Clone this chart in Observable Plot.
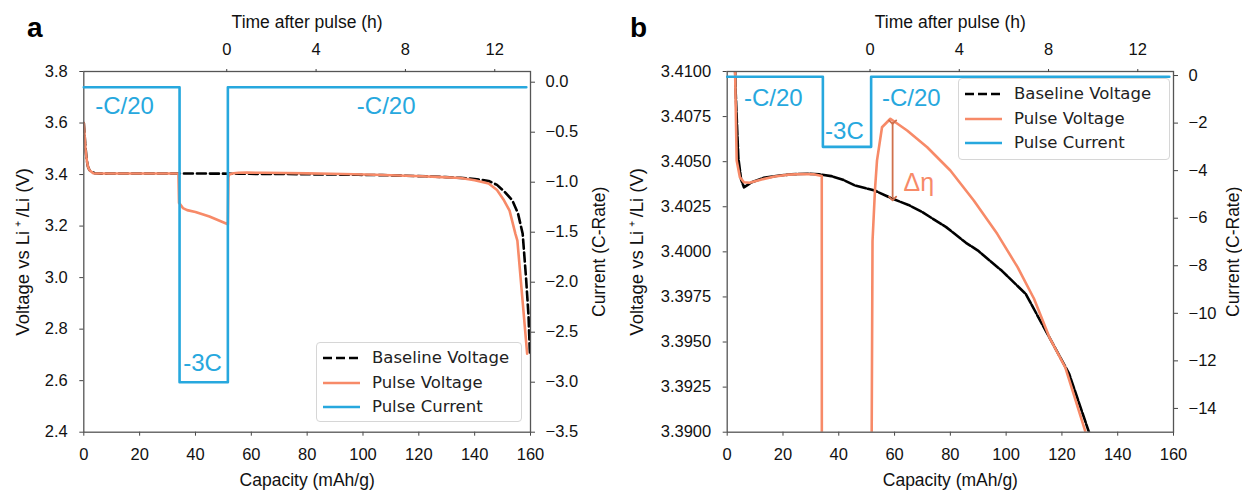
<!DOCTYPE html>
<html><head><meta charset="utf-8">
<script src="https://cdn.jsdelivr.net/npm/d3@7"></script>
<script src="https://cdn.jsdelivr.net/npm/@observablehq/plot@0.6"></script>
<style>
body{margin:0;background:#fff;}
#root{position:relative;width:1242px;height:492px;overflow:hidden;font-family:"Liberation Sans",Arial,sans-serif;background:#fff;}
.layer{position:absolute;top:0;}
.layer svg{display:block;background:transparent;overflow:visible;}
.letter{position:absolute;font-weight:bold;font-size:28px;line-height:28px;color:#000;}
.legend{position:absolute;background:rgba(255,255,255,0.85);border:1px solid #d6d6d6;border-radius:4px;font-family:"DejaVu Sans",sans-serif;font-size:16.5px;color:#222;box-sizing:border-box;}
.legend .sw{position:absolute;left:6px;}
.legend .lab{position:absolute;left:55px;line-height:20px;white-space:nowrap;}
</style>
</head><body><div id="root"></div>
<script>
const BLUE = "#27a8de", ORANGE = "#f78a68", FONT = "Liberation Sans, Arial, sans-serif";

// ---- data (capacity in mAh/g, voltage in V, current in C-rate) ----
const baseCap = [0,0.5,1,1.5,2,2.5,3,4,5,6,8.8,13,18.8,23,28.7,33,37.3,41.5,45.8,52.9,59.3,65,70,78.5,85.6,89.9,98.4,107,115.5,122.6,129.7,135,140,145,148,151,153.5,155.5,157.2,158.4,159.3,159.8];
const baseV   = [3.60,3.52,3.46,3.43,3.418,3.4125,3.409,3.4052,3.4040,3.40358,3.40386,3.4041,3.40423,3.4043,3.40433,3.4043,3.4042,3.4040,3.40368,3.4034,3.40294,3.4026,3.4022,3.40137,3.4005,3.40007,3.39896,3.39767,3.39526,3.39323,3.3900,3.387,3.383,3.375,3.36,3.33,3.30,3.25,3.17,3.00,2.85,2.70];

const pulseCap = [0,0.3,0.6,1,1.5,2,2.5,2.83,3.4,4.55,6,8,12,17,22,27,31,33.9,34.1,34.5,35.5,37,40,45,51.6,51.8,52.1,53,53.7,55.5,58.5,64.5,71.7,80,88.4,96.8,104.1,110,115.5,121.2,128.3,135,140,145,148,150.5,152.5,154.6,155.3,157,158.8];
const pulseV   = [3.60,3.55,3.50,3.46,3.43,3.418,3.4125,3.41,3.40506,3.40414,3.40386,3.40383,3.4040,3.40418,3.40428,3.40432,3.4043,3.4042,3.29,3.285,3.270,3.262,3.255,3.237,3.207,3.39,3.4006,3.4035,3.40506,3.40691,3.40738,3.40673,3.4058,3.40451,3.40285,3.4010,3.39915,3.3974,3.39526,3.3936,3.39009,3.3865,3.378,3.365,3.34,3.30,3.26,3.17,3.144,2.93,2.705];

const currentCap = [0,34.3,34.3,51.6,51.6,158.5];
const currentVal = [-0.05,-0.05,-3,-3,-0.05,-0.05];

const capTicks = [0,20,40,60,80,100,120,140,160];
const timeTicks = [0,4,8,12];
const voltTicksA = [2.4,2.6,2.8,3.0,3.2,3.4,3.6,3.8];
const voltTicksB = [3.39,3.3925,3.395,3.3975,3.40,3.4025,3.405,3.4075,3.41];
const currTicksA = [0,-0.5,-1,-1.5,-2,-2.5,-3,-3.5];
const currTicksB = [0,-2,-4,-6,-8,-10,-12,-14];

const annLabelsA = ["-C/20","-C/20","-3C"];
const annCapA = [4.1,97.8,35.6];
const annCurA = [-0.243,-0.243,-2.808];
const annLabelsB = ["-C/20","-3C","-C/20"];
const annCapB = [6.0,35.1,55.5];
const annCurB = [-0.947,-2.358,-0.947];
const etaCap = [63.2], etaV = [3.40379];
const arrowCap = [59.3], arrowTop = [3.40719], arrowBottom = [3.40296];

const legendLabels = ["Baseline Voltage","Pulse Voltage","Pulse Current"];

const zip = (xs, ys, kx, ky) => xs.map((x,i)=>({[kx]:x,[ky]:ys[i]}));
const baseRows = zip(baseCap, baseV, "cap", "v");
const pulseRows = zip(pulseCap, pulseV, "cap", "v");
const currRows = zip(currentCap, currentVal, "cap", "c");
// time after pulse: 1 h = 8 mAh/g at C/20, pulse ends at 51.2 mAh/g
const capToTime = c => (c - 51.2) / 8;

const root = document.getElementById("root");

function panel(cfg) {
  const common = {width: cfg.width, height: 492, marginLeft: cfg.ml, marginRight: cfg.mr, marginTop: 71, marginBottom: 60.3,
    style: {background: "transparent", fontFamily: FONT, color: "#111", overflow: "visible"}};
  const axisText = {fontSize: 16.5, tickSize: 4, tickPadding: 12, label: null, stroke: "#444"};
  const lab = {fontSize: 17.5, fill: "#111", lineAnchor: "middle", textAnchor: "middle"};

  // layer 1: voltage
  const m1 = [
    Plot.axisX({anchor: "bottom", ticks: capTicks, ...axisText}),
    Plot.axisY({anchor: "left", ticks: cfg.vTicks, tickFormat: d3.format(cfg.vFmt), ...axisText}),
    Plot.line(baseRows, {x: "cap", y: "v", stroke: "#000", strokeWidth: 2.6, strokeDasharray: cfg.dash, clip: true}),
    Plot.line(pulseRows, {x: "cap", y: "v", stroke: ORANGE, strokeWidth: 2.6, clip: true}),
  ];
  if (cfg.arrow) {
    m1.push(Plot.link(arrowCap.map((c,i)=>({c, y1: arrowTop[i], y2: arrowBottom[i]})), {x1: "c", x2: "c", y1: "y1", y2: "y2", stroke: "#d0704c", strokeWidth: 1.8, markerStart: "arrow", markerEnd: "arrow"}));
    m1.push(Plot.text(etaCap.map((c,i)=>({c, v: etaV[i]})), {x: "c", y: "v", text: () => "Δη", fill: ORANGE, fontSize: 25, textAnchor: "start"}));
  }
  m1.push(Plot.frame({stroke: "#555", strokeWidth: 1.3}));
  m1.push(Plot.text(["Capacity (mAh/g)"], {frameAnchor: "bottom", dy: 47.7, text: d => d, ...lab}));
  m1.push(Plot.text(["Voltage vs Li\u2009\u207A\u2009/Li (V)"], {frameAnchor: "left", dx: cfg.leftLabelDx, rotate: -90, text: d => d, ...lab, fontSize: 18.5}));
  const p1 = Plot.plot({...common, x: {domain: [0,160]}, y: {domain: cfg.vDomain}, marks: m1});

  // layer 2: current
  const ann = cfg.annLabels.map((t,i)=>({t, c: cfg.annCap[i], cur: cfg.annCur[i]}));
  const p2 = Plot.plot({...common, x: {domain: [0,160], axis: null}, y: {domain: cfg.cDomain}, marks: [
    Plot.axisY({anchor: "right", ticks: cfg.cTicks, tickFormat: d3.format(cfg.cFmt), ...axisText, tickPadding: 11}),
    Plot.line(currRows, {x: "cap", y: "c", stroke: BLUE, strokeWidth: 2.6}),
    Plot.text(ann, {x: "c", y: "cur", text: "t", fill: BLUE, fontSize: 24, textAnchor: "start"}),
    Plot.text(["Current (C-Rate)"], {frameAnchor: "right", dx: cfg.rightLabelDx, rotate: -90, text: d => d, ...lab})
  ]});

  // layer 3: time after pulse (top axis)
  const p3 = Plot.plot({...common, x: {domain: [capToTime(0), capToTime(160)]}, y: {domain: [0,1], axis: null}, marks: [
    Plot.axisX({anchor: "top", ticks: timeTicks, ...axisText, tickSize: 3, tickPadding: 14}),
    Plot.text(["Time after pulse (h)"], {frameAnchor: "top", dy: -49.3, text: d => d, ...lab})
  ]});

  for (const p of [p1, p2, p3]) {
    const d = document.createElement("div");
    d.className = "layer"; d.style.left = cfg.left + "px";
    d.appendChild(p); root.appendChild(d);
  }

  const L = document.createElement("div");
  L.className = "letter"; L.textContent = cfg.letter;
  L.style.left = cfg.letterX + "px"; L.style.top = "14px";
  root.appendChild(L);

  const lg = document.createElement("div");
  lg.className = "legend";
  Object.assign(lg.style, {left: cfg.lg[0] + "px", top: cfg.lg[1] + "px", width: cfg.lg[2] + "px", height: cfg.lg[3] + "px"});
  const styles = [{s: "#000", d: "9,4"}, {s: ORANGE, d: null}, {s: BLUE, d: null}];
  legendLabels.forEach((t, i) => {
    const cy = 15 + i * 24.5;
    const sw = document.createElementNS("http://www.w3.org/2000/svg", "svg");
    sw.setAttribute("class", "sw"); sw.setAttribute("width", 38); sw.setAttribute("height", 6);
    sw.style.top = (cy - 3) + "px";
    const ln = document.createElementNS("http://www.w3.org/2000/svg", "line");
    ln.setAttribute("x1", 0); ln.setAttribute("x2", 37); ln.setAttribute("y1", 3); ln.setAttribute("y2", 3);
    ln.setAttribute("stroke", styles[i].s); ln.setAttribute("stroke-width", 2.6);
    if (styles[i].d) ln.setAttribute("stroke-dasharray", styles[i].d);
    sw.appendChild(ln); lg.appendChild(sw);
    const sp = document.createElement("span");
    sp.className = "lab"; sp.textContent = t; sp.style.top = (cy - 10) + "px";
    lg.appendChild(sp);
  });
  root.appendChild(lg);
}

panel({left: 0, width: 620, ml: 83.3, mr: 90, vDomain: [2.4, 3.8], cDomain: [-3.5, 0.107],
  vTicks: voltTicksA, vFmt: ".1f", cTicks: currTicksA, cFmt: ".1f", dash: "9,4",
  annLabels: annLabelsA, annCap: annCapA, annCur: annCurA, arrow: false,
  leftLabelDx: -61, rightLabelDx: 68.7, letter: "a", letterX: 27, lg: [316, 342, 206, 80]});

panel({left: 620, width: 622, ml: 106.7, mr: 69, vDomain: [3.39, 3.41], cDomain: [-15, 0.17],
  vTicks: voltTicksB, vFmt: ".4f", cTicks: currTicksB, cFmt: "d", dash: "10,2",
  annLabels: annLabelsB, annCap: annCapB, annCur: annCurB, arrow: true,
  leftLabelDx: -89.7, rightLabelDx: 59.5, letter: "b", letterX: 630, lg: [958, 78, 212, 82]});
</script></body></html>
